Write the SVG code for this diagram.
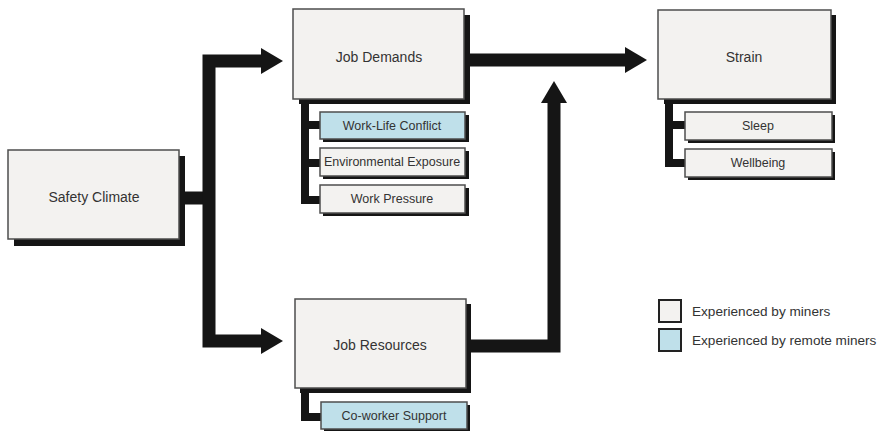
<svg xmlns="http://www.w3.org/2000/svg" width="883" height="431" viewBox="0 0 883 431">
  <style>
    .box { fill: #f3f2f0; stroke: #4d4d4d; stroke-width: 1.5; }
    .blue { fill: #bfe0ea; }
    .shadow { fill: #151515; }
    .label { font-family: "Myriad Pro", "Liberation Sans", Arial, sans-serif; fill: #333; text-anchor: middle; dominant-baseline: central; }
    .main { font-size: 14px; }
    .sub { font-size: 12.5px; }
    .legend { font-family: "Liberation Sans", Arial, sans-serif; font-size: 13.6px; fill: #333; dominant-baseline: central; }
    .flow { fill: none; stroke: #151515; stroke-width: 13; stroke-linejoin: miter; stroke-linecap: butt; }
    .bracket { fill: none; stroke: #151515; stroke-width: 8; stroke-linejoin: miter; stroke-linecap: butt; }
  </style>
  <defs>
    <marker id="head" markerUnits="userSpaceOnUse" viewBox="0 0 22 26" markerWidth="22" markerHeight="26" refX="1" refY="13" orient="auto-start-reverse">
      <path d="M0,0 L22,13 L0,26 z" fill="#151515"/>
    </marker>
  </defs>

  <!-- connectors -->
  <g id="connectors">
    <path class="flow" d="M179,198 H209"/>
    <path class="flow" d="M262,61 H209 V341 H262" marker-start="url(#head)" marker-end="url(#head)"/>
    <path class="flow" d="M462,60 H626" marker-end="url(#head)"/>
    <path class="flow" d="M466,346 H554 V102" marker-end="url(#head)"/>
    <path class="bracket" d="M305,99 V200 H322 M305,125 H322 M305,163 H322"/>
    <path class="bracket" d="M669,99 V163 H687 M669,125 H687"/>
    <path class="bracket" d="M305,388 V417 H323"/>
  </g>

  <!-- Safety Climate -->
  <g id="safety-climate">
    <rect class="shadow" x="14" y="156" width="171" height="90"/>
    <rect class="box" x="8" y="150" width="171" height="89"/>
    <text class="label main" x="94" y="197">Safety Climate</text>
  </g>

  <!-- Job Demands -->
  <g id="job-demands">
    <rect class="shadow" x="299" y="15" width="171" height="89"/>
    <rect class="box" x="293" y="9" width="171" height="90"/>
    <text class="label main" x="379" y="57">Job Demands</text>
  </g>
  <g id="work-life-conflict">
    <rect class="shadow" x="323" y="115" width="146" height="27"/>
    <rect class="box blue" x="320" y="112" width="145" height="27"/>
    <text class="label sub" x="392" y="126">Work-Life Conflict</text>
  </g>
  <g id="environmental-exposure">
    <rect class="shadow" x="323" y="151" width="146" height="28"/>
    <rect class="box" x="320" y="148" width="145" height="28"/>
    <text class="label sub" x="392" y="162">Environmental Exposure</text>
  </g>
  <g id="work-pressure">
    <rect class="shadow" x="323" y="188" width="146" height="28"/>
    <rect class="box" x="320" y="185" width="145" height="28"/>
    <text class="label sub" x="392" y="199">Work Pressure</text>
  </g>

  <!-- Job Resources -->
  <g id="job-resources">
    <rect class="shadow" x="300" y="304" width="171" height="89"/>
    <rect class="box" x="295" y="299" width="171" height="89"/>
    <text class="label main" x="380" y="345">Job Resources</text>
  </g>
  <g id="co-worker-support">
    <rect class="shadow" x="324" y="405" width="146" height="28"/>
    <rect class="box blue" x="321" y="402" width="146" height="27"/>
    <text class="label sub" x="394" y="416">Co-worker Support</text>
  </g>

  <!-- Strain -->
  <g id="strain">
    <rect class="shadow" x="664" y="15" width="172" height="89"/>
    <rect class="box" x="658" y="10" width="173" height="89"/>
    <text class="label main" x="744" y="57">Strain</text>
  </g>
  <g id="sleep">
    <rect class="shadow" x="688" y="115" width="147" height="28"/>
    <rect class="box" x="685" y="112" width="147" height="28"/>
    <text class="label sub" x="758" y="126">Sleep</text>
  </g>
  <g id="wellbeing">
    <rect class="shadow" x="688" y="152" width="147" height="28"/>
    <rect class="box" x="685" y="149" width="147" height="28"/>
    <text class="label sub" x="758" y="163">Wellbeing</text>
  </g>

  <!-- Legend -->
  <g id="legend">
    <rect x="659" y="300" width="22" height="22" fill="#f3f2f0" stroke="#222" stroke-width="2"/>
    <text class="legend" x="692" y="311">Experienced by miners</text>
    <rect x="659" y="329" width="22" height="22" fill="#bfe0ea" stroke="#222" stroke-width="2"/>
    <text class="legend" x="692" y="340">Experienced by remote miners</text>
  </g>
</svg>
